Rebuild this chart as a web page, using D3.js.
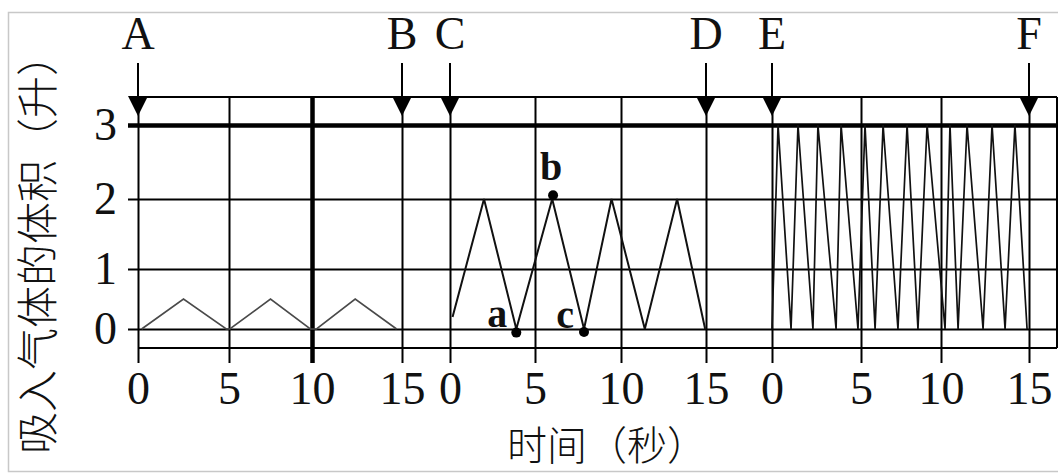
<!DOCTYPE html>
<html>
<head>
<meta charset="utf-8">
<script src="https://cdn.jsdelivr.net/npm/d3@7"></script>
<style>
  html, body { margin: 0; padding: 0; background: #fff; }
  svg { display: block; }
</style>
</head>
<body>
<script>
// ---------- data ----------
const yTicks = [0, 1, 2, 3];
const xTickValues = [0, 5, 10, 15];
const xTickLabels = ["0", "5", "10", "15"];

const markerLabels = ["A", "B", "C", "D", "E", "F"];
const markerSegments = [0, 0, 1, 1, 2, 2];
const markerTimes = [0, 15, 0, 15, 0, 15];

// segment 1 : A -> B (quiet breathing)
const seg1Time   = [0.2, 2.5, 4.85, 5.05, 7.5, 9.9, 10.25, 12.4, 14.7];
const seg1Volume = [0,   0.5, 0,    0,    0.5, 0,   0,     0.5,  0];

// segment 2 : C -> D
const seg2Time   = [0.15, 2.0, 3.9, 6.0, 7.85, 9.45, 11.4, 13.3, 14.95];
const seg2Volume = [0.2,  2,   0,   2,   0,    2,    0,    2,    0];

// segment 3 : E -> F (fast deep breathing)
const seg3Time   = [0, 0.34, 1.07, 1.46, 2.30, 2.58, 3.60, 3.88, 4.83, 5.25, 5.88, 6.38, 7.31, 7.88, 8.56, 9.13,
                    10.23, 10.51, 10.97, 11.48, 12.39, 12.90, 13.64, 14.20, 14.89];
const seg3Volume = [0, 3, 0, 3, 0, 3, 0, 3, 0, 3, 0, 3, 0, 3, 0, 3,
                    0, 3, 0, 3, 0, 3, 0, 3, 0];

const pointLabels = ["a", "b", "c"];
const pointTimes = [3.9, 6.05, 7.85];
const pointVolumes = [-0.06, 2.05, -0.05];

const yTitle = "吸入气体的体积（升）";
const xTitle = "时间（秒）";

// ---------- layout ----------
const W = 1058, H = 473;
const L = 128, R = 1057, T = 97, B = 348, TB = 363;
const serif = "'Liberation Serif', 'Times New Roman', serif";
const cjk = "'Noto Sans CJK SC', sans-serif";

const svg = d3.select("body").append("svg").attr("width", W).attr("height", H);

const y = d3.scaleLinear().domain([0, 1, 2, 3]).range([329, 269, 199, 125]);
const xs = [
  d3.scaleLinear().domain([0, 5, 10, 15]).range([138, 229, 312, 402]),
  d3.scaleLinear().domain([0, 5, 10, 15]).range([450, 535, 621, 706]),
  d3.scaleLinear().domain([0, 5, 10, 15]).range([772, 861, 941, 1029])
];

// border
svg.append("rect").attr("x", 8.5).attr("y", 12.5).attr("width", 1060).attr("height", 459)
  .attr("fill", "none").attr("stroke", "#c8c8c8").attr("stroke-width", 1.5);

// frame lines
const frame = svg.append("g").attr("stroke", "#000").attr("stroke-width", 2);
frame.append("line").attr("x1", 138).attr("x2", R).attr("y1", T).attr("y2", T);
frame.append("line").attr("x1", 138).attr("x2", R).attr("y1", B).attr("y2", B);
frame.append("line").attr("x1", R).attr("x2", R).attr("y1", T).attr("y2", B);

// y axis + horizontal grid
const yAxis = svg.append("g").attr("transform", `translate(${L},0)`)
  .call(d3.axisLeft(y).tickValues(yTicks).tickSize(-(R - L)).tickPadding(11).tickFormat(d3.format("d")));
yAxis.select(".domain").remove();
yAxis.selectAll(".tick line").attr("stroke", "#000").attr("stroke-width", d => d === 3 ? 4.5 : 2);
yAxis.selectAll(".tick text").attr("font-family", serif).attr("font-size", 46).attr("fill", "#111");

// x axes + vertical grid
xs.forEach((xsc, i) => {
  const g = svg.append("g").attr("transform", `translate(0,${TB})`)
    .call(d3.axisBottom(xsc).tickValues(xTickValues).tickSize(-(TB - T)).tickPadding(8)
      .tickFormat((d, j) => xTickLabels[j]));
  g.select(".domain").remove();
  g.selectAll(".tick line").attr("stroke", "#000")
    .attr("stroke-width", d => (i === 0 && d === 10) ? 4.5 : 2);
  g.selectAll(".tick text").attr("font-family", serif).attr("font-size", 46).attr("fill", "#111");
});

// data lines
const segs = [
  { t: seg1Time, v: seg1Volume, color: "#4a4a4a", w: 1.6 },
  { t: seg2Time, v: seg2Volume, color: "#111", w: 2 },
  { t: seg3Time, v: seg3Volume, color: "#111", w: 1.7 }
];
segs.forEach((s, i) => {
  const pts = s.t.map((t, k) => [t, s.v[k]]);
  svg.append("path").datum(pts)
    .attr("d", d3.line().x(d => xs[i](d[0])).y(d => y(d[1])))
    .attr("fill", "none").attr("stroke", s.color).attr("stroke-width", s.w)
    .attr("stroke-linejoin", "miter");
});

// points a, b, c
const labelOffsets = [[-9, -6, "end"], [-2, -15, "middle"], [-10, -4, "end"]];
pointLabels.forEach((lab, k) => {
  const px = xs[1](pointTimes[k]), py = y(pointVolumes[k]);
  svg.append("circle").attr("cx", px).attr("cy", py).attr("r", 5).attr("fill", "#000");
  svg.append("text").attr("x", px + labelOffsets[k][0]).attr("y", py + labelOffsets[k][1])
    .attr("text-anchor", labelOffsets[k][2])
    .attr("font-family", serif).attr("font-size", 40).attr("font-weight", "bold").attr("fill", "#111")
    .text(lab);
});

// arrows A..F
markerLabels.forEach((lab, k) => {
  const mx = xs[markerSegments[k]](markerTimes[k]);
  svg.append("line").attr("x1", mx).attr("x2", mx).attr("y1", 63).attr("y2", T)
    .attr("stroke", "#000").attr("stroke-width", 2);
  svg.append("path").attr("d", `M${mx - 10},${T - 1}L${mx + 10},${T - 1}L${mx},${116}Z`).attr("fill", "#000");
  svg.append("text").attr("x", mx).attr("y", 49).attr("text-anchor", "middle")
    .attr("font-family", serif).attr("font-size", 46).attr("fill", "#111").text(lab);
});

// titles
svg.append("text").attr("transform", "translate(34,244) rotate(-90)")
  .attr("text-anchor", "middle").attr("dominant-baseline", "central")
  .attr("font-family", cjk).attr("font-size", 42).attr("font-weight", 300).attr("fill", "#111").text(yTitle);
svg.append("text").attr("x", 607).attr("y", 460)
  .attr("text-anchor", "middle")
  .attr("font-family", cjk).attr("font-size", 40).attr("font-weight", 300).attr("fill", "#111").text(xTitle);
</script>
</body>
</html>
